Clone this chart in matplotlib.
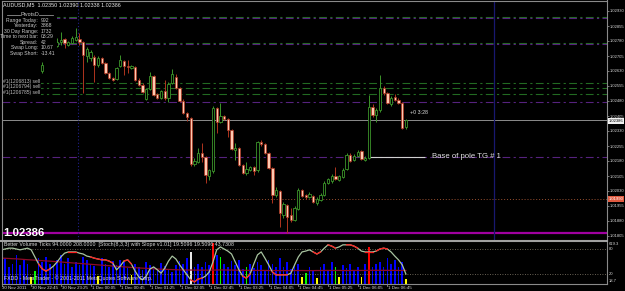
import matplotlib
matplotlib.use("Agg")
import matplotlib.pyplot as plt
import numpy as np

# ---------------- data ----------------
opens = [1.02760,1.02785,1.02805,1.02795,1.02835,1.02820,1.02855,1.02835,1.02810,1.02825,
         1.02785,1.02630,1.02725,1.02745,1.02765,1.02755,1.02775,1.02790,1.02760,1.02770,
         1.02785,1.02790,1.02775,1.02705,1.02695,1.02700,1.02660,1.02695,1.02670,1.02620,
         1.02595,1.02590,1.02655,1.02680,1.02655,1.02645,1.02650,1.02585,1.02560,1.02490,
         1.02540,1.02605,1.02515,1.02495,1.02530,1.02495,1.02570,1.02600,1.02545,1.02480,
         1.02420,1.02395,1.02165,1.02175,1.02220,1.02200,1.02105,1.02130,1.02445,1.02375,
         1.02405,1.02390,1.02335,1.02235,1.02245,1.02160,1.02120,1.02135,1.02150,1.02135,
         1.02275,1.02265,1.02220,1.02145,1.02010,1.02030,1.01910,1.01960,1.01910,1.01885,
         1.01940,1.02035,1.02010,1.02000,1.02005,1.01970,1.01985,1.02010,1.02070,1.02080,
         1.02105,1.02085,1.02100,1.02140,1.02210,1.02185,1.02205,1.02230,1.02185,1.02195,
         1.02450,1.02410,1.02435,1.02545,1.02520,1.02465,1.02500,1.02485,1.02470,1.02350]
highs = [1.02795,1.02820,1.02825,1.02845,1.02850,1.02875,1.02865,1.02845,1.02835,1.02835,
         1.02795,1.02675,1.02755,1.02775,1.02785,1.02795,1.02825,1.02795,1.02780,1.02805,
         1.02845,1.02820,1.02780,1.02750,1.02735,1.02710,1.02705,1.02700,1.02675,1.02625,
         1.02600,1.02650,1.02710,1.02685,1.02685,1.02660,1.02655,1.02595,1.02570,1.02545,
         1.02625,1.02610,1.02520,1.02535,1.02585,1.02575,1.02640,1.02615,1.02550,1.02490,
         1.02425,1.02400,1.02195,1.02245,1.02270,1.02205,1.02140,1.02455,1.02450,1.02470,
         1.02410,1.02395,1.02340,1.02270,1.02250,1.02165,1.02175,1.02155,1.02155,1.02280,
         1.02285,1.02270,1.02225,1.02150,1.02050,1.02035,1.01975,1.01965,1.01945,1.01955,
         1.02045,1.02040,1.02015,1.02025,1.02010,1.02000,1.02020,1.02080,1.02095,1.02115,
         1.02150,1.02110,1.02145,1.02220,1.02220,1.02215,1.02235,1.02235,1.02205,1.02510,
         1.02465,1.02445,1.02610,1.02555,1.02525,1.02505,1.02515,1.02495,1.02475,1.02390]
lows = [1.02745,1.02775,1.02780,1.02785,1.02805,1.02810,1.02820,1.02795,1.02785,1.02760,
        1.02710,1.02620,1.02710,1.02735,1.02745,1.02750,1.02760,1.02745,1.02755,1.02765,
        1.02780,1.02760,1.02520,1.02675,1.02680,1.02575,1.02650,1.02665,1.02615,1.02590,
        1.02580,1.02585,1.02650,1.02610,1.02620,1.02640,1.02580,1.02555,1.02520,1.02485,
        1.02535,1.02505,1.02490,1.02490,1.02485,1.02475,1.02565,1.02540,1.02475,1.02415,
        1.02380,1.02155,1.02155,1.02170,1.02175,1.02070,1.02085,1.02120,1.02320,1.02370,
        1.02385,1.02300,1.02235,1.02185,1.02155,1.02115,1.02110,1.02130,1.02110,1.02125,
        1.02255,1.02215,1.02140,1.01970,1.02000,1.01850,1.01895,1.01820,1.01875,1.01880,
        1.01935,1.02000,1.01990,1.01995,1.01970,1.01960,1.01980,1.02005,1.02065,1.02070,
        1.02085,1.02080,1.02095,1.02135,1.02175,1.02180,1.02200,1.02185,1.02180,1.02190,
        1.02400,1.02375,1.02425,1.02510,1.02465,1.02455,1.02480,1.02465,1.02340,1.02338]
closes = [1.02785,1.02805,1.02795,1.02835,1.02820,1.02855,1.02835,1.02810,1.02825,1.02785,
          1.02725,1.02660,1.02745,1.02765,1.02755,1.02775,1.02785,1.02770,1.02775,1.02795,
          1.02800,1.02775,1.02710,1.02740,1.02725,1.02660,1.02695,1.02670,1.02620,1.02595,
          1.02585,1.02645,1.02685,1.02655,1.02650,1.02655,1.02585,1.02560,1.02525,1.02540,
          1.02605,1.02510,1.02495,1.02530,1.02495,1.02565,1.02615,1.02545,1.02480,1.02420,
          1.02400,1.02165,1.02180,1.02220,1.02200,1.02110,1.02135,1.02445,1.02375,1.02405,
          1.02390,1.02335,1.02240,1.02245,1.02160,1.02120,1.02140,1.02150,1.02130,1.02275,
          1.02265,1.02220,1.02145,1.02010,1.02035,1.01920,1.01965,1.01900,1.01885,1.01945,
          1.02035,1.02005,1.02000,1.02015,1.01975,1.01990,1.02010,1.02070,1.02090,1.02105,
          1.02090,1.02105,1.02135,1.02210,1.02180,1.02205,1.02225,1.02190,1.02195,1.02450,
          1.02410,1.02435,1.02545,1.02520,1.02470,1.02495,1.02485,1.02470,1.02345,1.02386]

volumes = [320,380,250,300,420,280,350,300,120,200, 380,330,400,300,260,350,420,300,380,250,
           330,280,400,350,300,270,130,380,300,250, 340,280,360,320,240,150,300,260,220,330,
           290,250,200,310,270,230,190,280,340,300, 380,465,260,300,250,330,280,591,420,396,
           300,250,340,280,360,230,256,300,240,330, 280,210,350,300,250,380,260,320,230,280,
           300,110,172,250,200,100,260,300,220,330, 256,110,280,240,300,200,260,110,300,535,
           250,300,330,260,380,300,350,250,320,94]
vol_type = list("bbbbbbbbyg" "bbbbbbbbbb" "bbbbbbybbb" "bbbbbybbbb" "bbbbbbbbbb"
                "bwbbbbbrbg" "bbbbbbgbbb" "bbbbbbbbbb" "bygbbybbbb" "gybbbbbybr"
                "bbbbbbbbby")
vol_ma = [380,378,375,372,370,366,362,358,355,352, 348,345,341,338,334,330,326,322,318,314,
          310,306,302,298,294,290,286,282,278,274, 270,266,262,258,254,250,246,243,240,237,
          234,231,228,226,224,222,220,218,216,215, 214,214,213,213,212,212,212,213,214,215,
          215,214,213,212,211,210,210,209,209,208, 208,208,207,207,207,206,206,206,206,207,
          207,207,206,206,206,207,207,208,208,208, 208,208,207,207,207,208,208,208,208,210,
          210,210,210,209,209,209,209,208,208,208]
stoch = [78,80,82,82,80,78,80,82,78,61, 44,32,27,32,39,49,61,70,73,73,
         73,70,68,63,61,58,56,54,54,51, 46,30,39,51,54,44,27,13,6,15,
         32,37,30,22,34,51,63,56,42,30, 18,6,1,8,10,15,25,49,78,85,
         80,75,68,49,30,15,10,20,44,66, 73,58,42,25,18,18,18,18,22,42,
         61,73,75,78,73,68,73,82,90,87, 82,85,90,90,90,87,82,75,73,73,
         73,75,80,82,80,73,63,54,42,20]
stoch_red = [(10,13),(18,20),(24,30),(33,35),(51,54),(65,67),(73,77),(84,86),(88,90),(93,96),(98,100),(101,104)]

pivot_green = [1.02902, 1.02772]
pivot_purple = [1.02894, 1.02764, 1.02475, 1.02200]
order_levels = [1.02568, 1.02545, 1.02515]
order_labels = ["#1(1206813) sell", "#1(1206794) sell", "#1(1206785) sell"]
level_brown = 1.01990
level_magenta = 1.01822
pole_base = 1.02200
price_ticks = [1.02930 - 0.00075*k for k in range(16)]
time_labels = ["30 Nov 2011","30 Nov 22:45","30 Nov 23:25","1 Dec 00:05","1 Dec 00:45",
               "1 Dec 01:25","1 Dec 02:05","1 Dec 02:45","1 Dec 03:25","1 Dec 04:05",
               "1 Dec 04:45","1 Dec 05:25","1 Dec 06:05","1 Dec 06:45"]
panel_rows = ["Range Today:", "Yesterday:", "30 Day Range:", "Time to next bar:",
              "Spread:", "Swap Long:", "Swap Short:"]
panel_vals = ["992", "3868", "1732", "03:29", "42", "10.67", "-13.41"]

# ---------------- figure ----------------
W, H = 625, 291
plt.rcParams['font.family'] = ['Liberation Sans', 'DejaVu Sans']
fig = plt.figure(figsize=(W/100, H/100), dpi=100, facecolor="#000000")

def box(x0, y0, x1, y1):
    return [x0/W, 1 - y1/H, (x1-x0)/W, (y1-y0)/H]

XL = (0.13, 163.2)
n = np.arange(len(opens))
o = np.array(opens); c = np.array(closes); h = np.array(highs); l = np.array(lows)

ax = fig.add_axes(box(2, 1, 607, 240))
ax.set_facecolor("#000000")
ax.set_xlim(*XL)
ax.set_ylim(1.01785, 1.02980)
for s in ax.spines.values():
    s.set_visible(False)
ax.set_xticks([])
ax.yaxis.tick_right()
ax.set_yticks(price_ticks)
ax.set_yticklabels([f"{p:.5f}" for p in price_ticks])
ax.tick_params(axis='y', colors='#909090', labelcolor='#d8d8d8', labelsize=3.0,
               length=1.5, width=0.6, pad=0.6)

# level lines
dd = (0, (7, 3, 2, 3))
for p in pivot_green:
    ax.axhline(p, color='#246c24', lw=0.8, ls=dd, zorder=1)
for p in pivot_purple:
    ax.axhline(p, color='#56227e', lw=0.8, ls=dd, zorder=1)
for p in order_levels:
    ax.axhline(p, color='#226a22', lw=0.8, ls=dd, zorder=1)
ax.axhline(level_brown, color='#9a5030', lw=0.7, ls=(0, (1, 2)), zorder=1)
ax.axhline(level_magenta, color='#a000a0', lw=1.6, zorder=1)
ax.axhline(closes[-1], color='#8c8c8c', lw=0.7, zorder=1)
ax.axvline(20.6, color='#20208c', lw=0.8, ls=(0, (1, 2)), zorder=1)
ax.axvline(132.7, color='#181870', lw=0.9, zorder=1)
ax.hlines(pole_base, 98.8, 114.2, color='#d0d0d0', lw=0.8, zorder=2)
ax.text(116, pole_base, "Base of pole TG # 1", color='#e0e0e0', fontsize=5.6,
        va='center', ha='left')

# candles
bull = c >= o
wick_col = np.where(bull, '#3c962a', '#b0341e')
ax.vlines(n, l, h, colors=list(wick_col), lw=0.7, zorder=3)
ax.bar(n[bull], (c - o)[bull], bottom=o[bull], width=0.62, facecolor='#000000',
       edgecolor='#3c962a', lw=0.6, zorder=4)
ax.bar(n[~bull], (o - c)[~bull], bottom=c[~bull], width=0.62, facecolor='#ffc8b0',
       edgecolor='#b0341e', lw=0.5, zorder=4)

# ---------------- sub window ----------------
ax2 = fig.add_axes(box(2, 241, 607, 284))
ax2.set_facecolor("#000000")
ax2.set_xlim(*XL)
ax2.set_ylim(18.7, 619.3)
vcol = {'b': '#0000ff', 'y': '#ffff00', 'g': '#00ff00', 'r': '#ff0000', 'w': '#e8e8e8'}
ax2.bar(n, np.array(volumes) - 18.7, bottom=18.7, width=0.45,
        color=[vcol[t] for t in vol_type], zorder=2)
ax2.plot(n, vol_ma, color='#8c0a28', lw=0.9, zorder=3)
for s in ax2.spines.values():
    s.set_visible(False)
ax2.set_xticks([]); ax2.set_yticks([])

ax3 = ax2.twinx()
ax3.set_xlim(*XL)
ax3.set_ylim(-4, 99.2)
for s in ax3.spines.values():
    s.set_visible(False)
ax3.set_yticks([])
ax3.axhline(80, color='#8a8070', lw=0.6, ls=(0, (1, 2)))
ax3.axhline(20, color='#8a8070', lw=0.6, ls=(0, (1, 2)))
st = np.array(stoch, dtype=float)
ax3.plot(n, st, color='#a8c4a0', lw=0.9, zorder=4)
for a, b in stoch_red:
    ax3.plot(n[a:b+1], st[a:b+1], color='#ff2020', lw=0.9, zorder=5)

# ---------------- overlay (frames and texts) ----------------
ov = fig.add_axes([0, 0, 1, 1])
ov.set_xlim(0, W); ov.set_ylim(H, 0)
ov.axis('off'); ov.patch.set_visible(False)

# info panel box
ov.add_patch(plt.Rectangle((0, 8), 57, 49, facecolor='#000000', edgecolor='none', zorder=1))
ov.plot([7, 20], [15, 15], color='#909090', lw=0.6, zorder=2)
ov.plot([39, 53], [15, 15], color='#909090', lw=0.6, zorder=2)
ov.text(29.5, 15, "PivotsD", color='#c8c8c8', fontsize=3.9, ha='center', va='center', zorder=3)
for k, (r, v) in enumerate(zip(panel_rows, panel_vals)):
    yy = 20.5 + 5.45*k
    ov.text(38, yy, r, color='#c8c8c8', fontsize=3.7, ha='right', va='center', zorder=3)
    ov.text(41, yy, v, color='#c8c8c8', fontsize=3.7, ha='left', va='center', zorder=3)

ov.text(3, 5, "AUDUSD,M5  1.02350 1.02390 1.02338 1.02386", color='#e8e8e8',
        fontsize=3.9, ha='left', va='center')
for k, t in enumerate(order_labels):
    ov.text(3, 81 + 5.6*k, t, color='#c0c0c0', fontsize=3.6, ha='left', va='center',
            bbox=dict(facecolor='#000000', edgecolor='none', pad=0.3))
ov.text(410, 113, "+0 3:28", color='#e0e0e0', fontsize=3.8, ha='left', va='center')
ov.text(3, 233, "1.02386", color='#ffffff', fontsize=8.2, fontweight='bold',
        ha='left', va='center')

# right side price boxes
ov.text(609, 121, f"{closes[-1]:.5f}", color='#000000', fontsize=3.0,
        ha='left', va='center', bbox=dict(facecolor='#f0f0f0', edgecolor='none', pad=0.4))
ov.text(609, 199, f"{level_brown:.5f}", color='#ffffff', fontsize=3.0,
        ha='left', va='center', bbox=dict(facecolor='#e05a40', edgecolor='none', pad=0.4))

# frames
fc = '#8a8a8a'
ov.plot([2, 607], [1, 1], color=fc, lw=0.8)
ov.plot([2, 2], [1, 284], color=fc, lw=0.8)
ov.plot([607, 607], [0, 284], color=fc, lw=0.8)
ov.plot([0, 607], [240.5, 240.5], color='#a0a0a0', lw=1.5)
ov.plot([2, 607], [284, 284], color=fc, lw=0.8)

# sub window labels
ov.text(4, 244.5, "Better Volume Ticks 94.0000 208.0000  [Stoch(8,3,3) with Slope v1.01] 19.5096 19.5096 43.7308",
        color='#d8d8d8', fontsize=3.8, ha='left', va='center')
for txt, yy in [("619.3", 244), ("80", 249.5), ("20", 274), ("18.7", 280.5)]:
    ov.text(609, yy, txt, color='#d8d8d8', fontsize=3.0, ha='left', va='center')
ov.text(4, 278, "FXDD - MetaTrader - \u00a9 2001-2011 MetaQuotes Software Corp.",
        color='#e0e0e0', fontsize=3.8, ha='left', va='center')

# time axis
for k, t in enumerate(time_labels):
    xp = 1.5 + 3.71*8*k
    ov.plot([xp, xp], [284, 286], color=fc, lw=0.6)
    ov.text(xp + 1, 288, t, color='#d8d8d8', fontsize=3.2,
            ha='left', va='center')

fig.savefig("out.png", dpi=100, facecolor=fig.get_facecolor())
